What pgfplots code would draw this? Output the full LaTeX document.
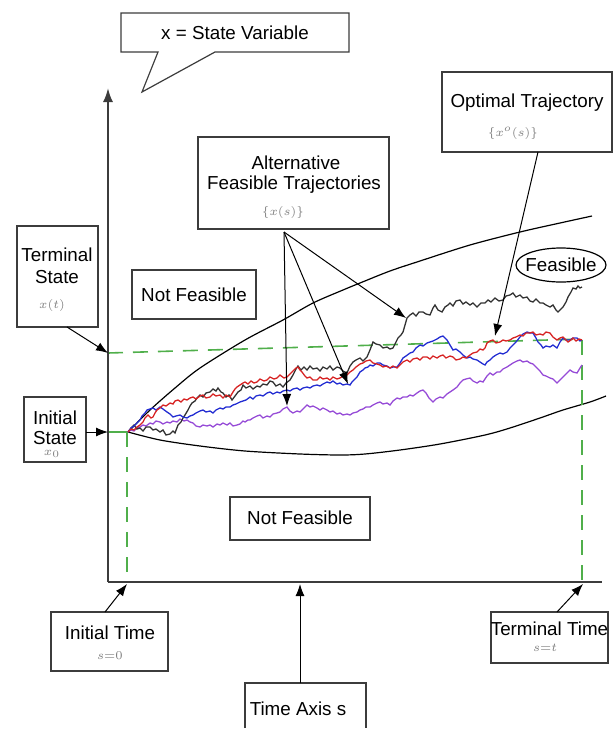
\documentclass[border=0pt]{standalone}
\usepackage{pgfplots}
\pgfplotsset{compat=1.18}
\usetikzlibrary{arrows.meta}
\usepackage{fontspec}
\setmainfont{Liberation Sans}
\definecolor{pathblack}{RGB}{50,50,50}
\definecolor{pathred}{RGB}{215,35,35}
\definecolor{pathblue}{RGB}{35,45,210}
\definecolor{pathpurple}{RGB}{150,75,215}
\definecolor{dashgreen}{RGB}{80,175,75}
\definecolor{boxgray}{RGB}{60,60,60}
\newcommand{\lbl}{\fontsize{9.4}{11}\selectfont}
\newcommand{\mth}{\fontsize{6}{7}\selectfont\color{gray}}
\begin{document}
\begin{tikzpicture}[
  box/.style={draw=boxgray, line width=0.6pt},
  arr/.style={-{Latex[length=6pt,width=4.5pt]}, line width=0.5pt, black},
  walk/.style={line width=0.65pt, no markers}]
\begin{axis}[
    name=ax,
    hide axis,
    scale only axis,
    width=306.5pt, height=364.5pt,
    xmin=0, xmax=613, ymin=0, ymax=729,
    y dir=reverse,
    clip=false]

% feasible region bounds
\addplot[black, line width=0.6pt, smooth, no markers] coordinates {
(128,432) (150,410) (175,388) (200,368) (245,340) (283,320) (313,303) (343,290)
(360,283) (390,271) (420,261) (470,245) (520,232) (560,223) (592,216)};
\addplot[black, line width=0.6pt, smooth, no markers] coordinates {
(128,432) (160,440) (200,446) (245,451) (300,454) (340,455) (365,454) (400,450)
(440,444) (485,435) (510,428) (540,418) (563,410) (590,402) (606,396)};

% green guides
\addplot[dashgreen, line width=0.8pt, dash pattern=on 7.5pt off 5pt] coordinates {(108,353) (582,339)};
\addplot[dashgreen, line width=0.8pt, dash pattern=on 7.5pt off 5pt] coordinates {(127,432) (127,582)};
\addplot[dashgreen, line width=0.8pt, dash pattern=on 7.5pt off 5pt] coordinates {(582,340) (582,582)};
\addplot[dashgreen, line width=0.8pt] coordinates {(108,432) (127,432)};

% trajectories
\addplot[walk, pathpurple] coordinates {
(128,432) (131,430) (134,431) (137,428) (140,427) (143,425) (146,426) (150,423) (153,424) (156,421)
(160,422) (163,424) (167,422) (170,423) (173,421) (177,422) (180,419) (184,421) (187,420) (190,422)
(193,423) (196,426) (200,427) (203,425) (207,426) (210,425) (213,427) (217,424) (220,425) (223,423)
(227,425) (230,423) (233,426) (237,425) (240,424) (243,421) (245,422) (248,420) (250,420) (253,418)
(257,416) (260,415) (263,418) (267,416) (270,417) (273,414) (277,413) (280,412) (283,409) (287,407)
(290,411) (293,413) (297,411) (300,412) (303,409) (307,405) (310,407) (313,406) (317,408) (320,410)
(323,408) (327,410) (330,412) (333,411) (337,414) (340,413) (343,415) (347,414) (350,415) (353,413)
(357,412) (360,410) (363,409) (366,407) (370,407) (373,405) (377,403) (380,402) (383,404) (387,403)
(390,405) (393,401) (397,398) (400,399) (403,397) (407,397) (410,395) (413,396) (417,393) (420,391)
(423,390) (426,393) (429,398) (433,402) (436,399) (440,397) (443,398) (447,394) (450,392) (453,390)
(457,387) (460,383) (463,380) (466,379) (470,378) (473,381) (477,383) (480,381) (483,382) (487,376)
(490,373) (493,375) (497,372) (500,372) (503,369) (507,367) (510,365) (513,363) (517,361) (520,360)
(523,362) (527,361) (530,363) (533,364) (537,368) (540,371) (543,375) (546,376) (550,378) (553,379)
(557,383) (560,380) (563,377) (566,374) (570,370) (573,372) (577,373) (580,368) (582,365)};
\addplot[walk, pathblack] coordinates {
(128,432) (131,428) (134,425) (137,429) (140,428) (143,431) (146,427) (150,427) (153,430) (156,429)
(160,432) (163,430) (166,435) (170,434) (173,431) (175,433) (178,425) (181,422) (183,418) (185,415)
(188,410) (190,406) (192,403) (195,401) (197,398) (200,395) (203,397) (206,393) (210,392) (213,389)
(216,391) (218,388) (221,392) (223,393) (226,397) (229,395) (232,400) (235,396) (238,392) (241,390)
(243,385) (246,388) (250,386) (253,389) (257,386) (260,387) (263,384) (267,385) (270,381) (273,382)
(276,386) (280,384) (283,387) (286,383) (290,380) (293,375) (296,369) (298,366) (301,370) (304,367)
(307,370) (310,366) (313,369) (317,368) (320,371) (323,367) (327,369) (330,366) (333,370) (337,367)
(340,368) (343,371) (347,373) (350,366) (353,362) (356,360) (360,358) (363,361) (367,357) (370,350)
(373,342) (376,344) (380,345) (383,348) (387,347) (390,349) (393,348) (396,342) (398,338) (401,335)
(403,332) (405,325) (407,318) (410,315) (413,313) (416,316) (419,312) (423,312) (426,314) (430,315)
(433,308) (435,305) (438,310) (442,312) (445,307) (448,305) (450,303) (453,306) (456,301) (460,300)
(463,304) (466,302) (470,305) (473,303) (477,307) (481,303) (485,303) (488,300) (491,302) (495,298)
(499,301) (503,300) (506,296) (510,295) (513,293) (516,297) (520,295) (523,298) (527,297) (530,301)
(533,302) (536,299) (540,303) (543,303) (546,305) (550,307) (553,305) (556,310) (558,312) (561,309)
(563,307) (566,302) (568,297) (571,292) (573,288) (576,289) (578,286) (580,288) (582,287)};
\addplot[walk, pathblue] coordinates {
(128,432) (131,428) (134,426) (137,423) (140,420) (142,416) (145,413) (147,410) (150,409) (153,408)
(156,410) (160,407) (163,409) (167,412) (170,414) (173,417) (176,416) (180,415) (183,417) (187,418)
(190,416) (193,415) (196,413) (200,411) (203,410) (206,412) (210,411) (213,413) (216,410) (220,408)
(223,409) (226,407) (230,407) (233,405) (236,404) (240,402) (243,401) (246,400) (250,397) (253,399)
(256,396) (260,395) (263,396) (267,393) (270,392) (273,394) (277,392) (280,393) (283,391) (287,390)
(290,391) (293,389) (297,388) (300,390) (303,388) (307,387) (310,388) (313,386) (317,385) (320,386)
(323,384) (327,382) (330,383) (333,381) (337,384) (340,383) (343,385) (347,384) (350,385) (352,382)
(355,379) (357,377) (360,372) (363,370) (365,368) (368,367) (370,365) (373,366) (377,363) (380,363)
(383,365) (387,366) (390,368) (393,367) (397,367) (400,363) (403,358) (406,356) (410,353) (413,352)
(416,348) (420,345) (423,346) (427,343) (430,342) (433,341) (437,339) (440,337) (443,336) (447,340)
(450,345) (453,350) (456,349) (460,352) (463,355) (467,358) (470,357) (473,359) (477,360) (480,362)
(483,364) (485,365) (487,362) (490,360) (493,357) (496,355) (500,353) (503,354) (507,352) (510,348)
(513,345) (516,342) (520,337) (523,334) (527,332) (530,333) (533,333) (536,338) (538,342) (541,345)
(543,348) (546,346) (550,347) (553,345) (557,348) (560,342) (563,338) (566,340) (570,340) (573,338)
(577,338) (580,341) (582,340)};
\addplot[walk, pathred] coordinates {
(128,432) (131,429) (134,430) (137,427) (140,425) (143,422) (145,418) (148,415) (151,418) (153,417)
(155,413) (157,410) (160,408) (163,405) (166,406) (170,403) (173,404) (175,401) (178,400) (181,402)
(184,399) (187,400) (190,398) (193,397) (196,399) (200,396) (203,395) (206,398) (210,397) (213,394)
(216,396) (220,395) (223,398) (226,395) (230,397) (233,392) (235,389) (237,387) (240,385) (243,383)
(245,382) (248,384) (251,381) (254,383) (257,382) (260,379) (264,381) (267,380) (270,377) (274,379)
(277,378) (280,375) (284,378) (287,377) (290,374) (293,371) (296,368) (298,367) (300,370) (302,372)
(305,376) (307,378) (310,377) (313,380) (317,380) (320,377) (323,379) (327,378) (330,380) (333,377)
(337,379) (340,378) (343,376) (347,375) (350,372) (353,370) (356,367) (360,364) (363,363) (366,361)
(370,360) (373,363) (377,364) (380,365) (383,367) (386,366) (390,368) (393,366) (397,368) (400,365)
(403,362) (407,360) (410,362) (413,359) (417,358) (420,360) (423,357) (427,357) (430,359) (433,356)
(437,358) (440,356) (443,355) (446,358) (450,356) (453,357) (456,360) (460,359) (463,357) (466,358)
(470,355) (473,353) (477,352) (480,349) (483,350) (485,348) (487,343) (490,341) (493,340) (496,343)
(500,342) (503,340) (506,341) (510,340) (513,338) (516,337) (520,335) (523,336) (526,333) (530,333)
(533,332) (536,335) (540,334) (543,335) (546,332) (550,333) (553,337) (557,340) (560,338) (563,337)
(566,340) (568,342) (571,340) (573,338) (576,341) (579,339) (582,340)};

% axes
\draw[boxgray, line width=1pt, -{Latex[length=7pt,width=5pt]}] (axis cs:108,582) -- (axis cs:108,88);
\draw[boxgray, line width=1pt] (axis cs:107.5,582) -- (axis cs:602,582);

% callout
\draw[box, fill=white] (axis cs:121,13) -- (axis cs:349,13) -- (axis cs:349,52) -- (axis cs:215,52)
  -- (axis cs:142,92) -- (axis cs:158,52) -- (axis cs:121,52) -- cycle;
\node[font=\lbl] at (axis cs:235,33) {x = State Variable};

% optimal trajectory
\draw[box, fill=white] (axis cs:442,72) rectangle (axis cs:612,152);
\node[font=\lbl] at (axis cs:527,103) {Optimal Trajectory};
\node[font=\mth] at (axis cs:513,133) {$\{x^{o}(s)\}$};
\draw[arr] (axis cs:538,152) -- (axis cs:495,336);

% alternative trajectories
\draw[box, fill=white] (axis cs:198,137) rectangle (axis cs:389,229);
\node[font=\lbl] at (axis cs:296,163) {Alternative};
\node[font=\lbl] at (axis cs:294,185) {Feasible Trajectories};
\node[font=\mth] at (axis cs:283,212) {$\{x(s)\}$};
\draw[arr] (axis cs:284,232) -- (axis cs:287,406);
\draw[arr] (axis cs:284,232) -- (axis cs:348,384);
\draw[arr] (axis cs:284,232) -- (axis cs:406,318);

% terminal state
\draw[box, fill=white] (axis cs:17,226) rectangle (axis cs:98,327);
\node[font=\lbl] at (axis cs:57,255) {Terminal};
\node[font=\lbl] at (axis cs:57,277) {State};
\node[font=\mth] at (axis cs:52,305) {$x(t)$};
\draw[arr] (axis cs:67,327) -- (axis cs:108,353);

% initial state
\draw[box, fill=white] (axis cs:24,397) rectangle (axis cs:86,462);
\node[font=\lbl] at (axis cs:55,418) {Initial};
\node[font=\lbl] at (axis cs:55,438) {State};
\node[font=\mth] at (axis cs:52,454) {$x_0$};
\draw[arr] (axis cs:86,432) -- (axis cs:108,432);

% regions
\draw[box, fill=white] (axis cs:132,270) rectangle (axis cs:256,319);
\node[font=\lbl] at (axis cs:194,295) {Not Feasible};
\draw[box, fill=white] (axis cs:230,497) rectangle (axis cs:370,540);
\node[font=\lbl] at (axis cs:300,518) {Not Feasible};
\draw[black, line width=0.6pt, fill=white] (axis cs:561,265) ellipse [x radius=22.5pt, y radius=8.5pt];
\node[font=\lbl] at (axis cs:561,265) {Feasible};

% time axis labels
\draw[box, fill=white] (axis cs:51,612) rectangle (axis cs:168,671);
\node[font=\lbl] at (axis cs:110,633) {Initial Time};
\node[font=\mth] at (axis cs:110,656) {$s{=}0$};
\draw[arr] (axis cs:105,612) -- (axis cs:127,584);

\draw[box] (axis cs:245,728) -- (axis cs:245,683) -- (axis cs:366,683) -- (axis cs:366,728);
\node[font=\lbl] at (axis cs:298,709) {Time Axis s};
\draw[arr] (axis cs:300,683) -- (axis cs:300,584);

\draw[box, fill=white] (axis cs:491,612) rectangle (axis cs:608,663);
\node[font=\lbl] at (axis cs:549.5,629) {Terminal Time};
\node[font=\mth] at (axis cs:545,648) {$s{=}t$};
\draw[arr] (axis cs:557,612) -- (axis cs:583,584);
\end{axis}
\pgfresetboundingbox
\path (ax.south west) rectangle (ax.north east);
\end{tikzpicture}
\end{document}
